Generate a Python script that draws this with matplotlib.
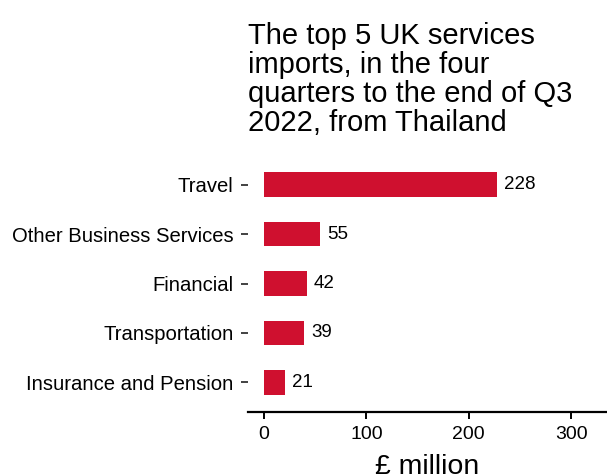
import matplotlib.pyplot as plt

plt.rcParams["font.family"] = ["Liberation Sans", "DejaVu Sans"]

# Data
categories = ["Travel", "Other Business Services", "Financial", "Transportation", "Insurance and Pension"]
values = [228, 55, 42, 39, 21]
x_ticks = [0, 100, 200, 300]

title = "The top 5 UK services\nimports, in the four\nquarters to the end of Q3\n2022, from Thailand"

# Figure
figure = plt.figure(figsize=(6.07, 4.76), dpi=100)
axes = figure.add_axes([248 / 607, 64 / 476, 1 - 248 / 607, (412 - 155) / 476])

positions = list(range(len(categories)))
axes.barh(positions, values, height=0.5, color="#CF102F")

for pos, val in zip(positions, values):
    axes.annotate(str(val), (val, pos), xytext=(7, 0), textcoords="offset pixels",
                  va="center", ha="left", fontsize=13.5, color="black")

axes.set_ylim(len(categories) - 0.4, -0.6)
axes.set_xlim(-15.6, 335)
axes.set_yticks(positions)
axes.set_yticklabels(categories)
axes.set_xticks(x_ticks)

for side in ["top", "right", "left"]:
    axes.spines[side].set_visible(False)
axes.spines["bottom"].set_linewidth(1.6)

axes.tick_params(axis="y", length=5, width=1.2, pad=5.5, labelsize=14.6, color="#222222")
axes.tick_params(axis="x", length=5, width=1.4, pad=5, labelsize=14, color="black")

axes.set_xlabel("£ million", fontsize=20.5, labelpad=8)

figure.text(248 / 607, 0.954, title, ha="left", va="top", fontsize=21, linespacing=1.05)

figure.savefig("out.png", dpi=100)
